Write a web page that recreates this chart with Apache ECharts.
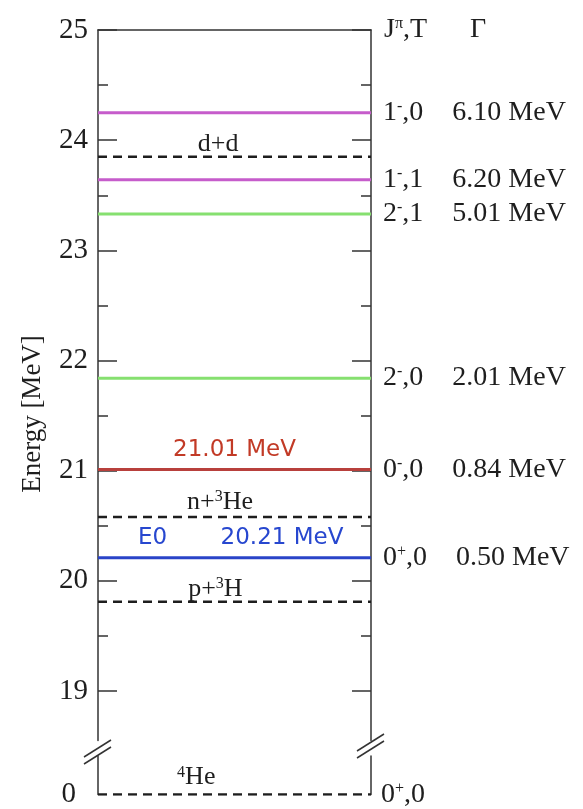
<!DOCTYPE html>
<html>
<head>
<meta charset="utf-8">
<script src="https://cdn.jsdelivr.net/npm/echarts@6/dist/echarts.min.js"></script>
<style>
  html, body { margin: 0; padding: 0; background: #fff; }
  #main { width: 583px; height: 809px; }
</style>
</head>
<body>
<div id="main"></div>
<script>
// resonance levels of 4He
var levelJ = ['1', '1', '2', '2', '0', '0'];
var levelParity = ['-', '-', '-', '-', '-', '+'];
var levelT = ['0', '1', '1', '0', '0', '0'];
var levelEnergy = [24.25, 23.64, 23.33, 21.84, 21.01, 20.21];
var levelGamma = ['6.10 MeV', '6.20 MeV', '5.01 MeV', '2.01 MeV', '0.84 MeV', '0.50 MeV'];
var levelColor = ['#c65ccb', '#c65ccb', '#86e070', '#86e070', '#b8403c', '#2a44c8'];

// breakup thresholds
var thresholdName = ['d+d', 'n+{s|3}He', 'p+{s|3}H'];
var thresholdEnergy = [23.85, 20.58, 19.81];

// ground state
var groundName = ['{s|4}He'];
var groundEnergy = [0];

// axis ticks
var majorTicks = [19, 20, 21, 22, 23, 24, 25];
var minorTicks = [19.5, 20.5, 21.5, 22.5, 23.5, 24.5];

var serif = '"Liberation Serif", "DejaVu Serif", serif';
var ink = '#1e1e1e';

var chart = echarts.init(document.getElementById('main'));

var supRich = {
    s: { fontFamily: serif, fontSize: 16, color: ink, verticalAlign: 'top', lineHeight: 14 }
};

var series = [];

levelEnergy.forEach(function (e, i) {
    series.push({
        type: 'line',
        xAxisIndex: 0,
        yAxisIndex: 0,
        symbol: 'none',
        silent: true,
        data: [[0, e], [1, e]],
        lineStyle: { color: levelColor[i], width: 3 },
        endLabel: {
            show: true,
            distance: 12,
            formatter: '{j|' + levelJ[i] + '}{p|' + levelParity[i] + '}{t|,' + levelT[i] + '}{g|' + levelGamma[i] + '}',
            rich: {
                j: { fontFamily: serif, fontSize: 28, color: ink },
                p: { fontFamily: serif, fontSize: 16, color: ink, verticalAlign: 'top', lineHeight: 12 },
                t: { fontFamily: serif, fontSize: 28, color: ink, width: 50 },
                g: { fontFamily: serif, fontSize: 28, color: ink }
            }
        }
    });
});

thresholdEnergy.forEach(function (e, i) {
    series.push({
        type: 'line',
        xAxisIndex: 0,
        yAxisIndex: 0,
        symbol: 'none',
        silent: true,
        data: [[0, e], [1, e]],
        lineStyle: { color: ink, width: 2.5, type: [9, 6] }
    });
});

groundEnergy.forEach(function (e) {
    series.push({
        type: 'line',
        xAxisIndex: 1,
        yAxisIndex: 4,
        symbol: 'none',
        silent: true,
        data: [[0, e], [1, e]],
        lineStyle: { color: ink, width: 2.5, type: [9, 6] },
        endLabel: {
            show: true,
            distance: 10,
            formatter: '{j|0}{p|+}{t|,0}',
            rich: {
                j: { fontFamily: serif, fontSize: 28, color: ink },
                p: { fontFamily: serif, fontSize: 16, color: ink, verticalAlign: 'top', lineHeight: 12 },
                t: { fontFamily: serif, fontSize: 28, color: ink }
            }
        }
    });
});

// text placed over the lines
var thresholdX = [0.44, 0.447, 0.43];
var thresholdDist = [0, 2, 0];
series.push({
    type: 'scatter',
    xAxisIndex: 0,
    yAxisIndex: 0,
    symbolSize: 0,
    silent: true,
    itemStyle: { opacity: 1 },
    data: thresholdEnergy.map(function (e, i) {
        return {
            value: [thresholdX[i], e],
            label: {
                show: true,
                position: 'top',
                distance: thresholdDist[i],
                formatter: thresholdName[i],
                fontFamily: serif,
                fontSize: 26,
                color: ink,
                rich: supRich
            }
        };
    })
});

series.push({
    type: 'scatter',
    xAxisIndex: 1,
    yAxisIndex: 4,
    symbolSize: 0,
    silent: true,
    itemStyle: { opacity: 1 },
    data: groundEnergy.map(function (e, i) {
        return {
            value: [0.36, e],
            label: {
                show: true,
                position: 'top',
                distance: 4,
                formatter: groundName[i],
                fontFamily: serif,
                fontSize: 26,
                color: ink,
                rich: supRich
            }
        };
    })
});

var comic = '"DejaVu Sans", "Noto Sans", sans-serif';
series.push({
    type: 'scatter',
    xAxisIndex: 0,
    yAxisIndex: 0,
    symbolSize: 0,
    silent: true,
    itemStyle: { opacity: 1 },
    data: [
        { value: [0.50, levelEnergy[4]], label: { formatter: levelEnergy[4].toFixed(2) + ' MeV', color: '#c23a26' } },
        { value: [0.20, levelEnergy[5]], label: { formatter: 'E0', color: '#2747cf' } },
        { value: [0.674, levelEnergy[5]], label: { formatter: levelEnergy[5].toFixed(2) + ' MeV', color: '#2747cf' } }
    ],
    label: {
        show: true,
        position: 'top',
        distance: 8,
        fontFamily: comic,
        fontSize: 23
    }
});

var option = {
    animation: false,
    backgroundColor: '#fff',
    grid: [
        { left: 98, top: 30, width: 273, height: 710.6 },
        { left: 98, top: 756, width: 273, height: 40 }
    ],
    xAxis: [
        {
            gridIndex: 0, type: 'value', min: 0, max: 1, position: 'top',
            axisLine: { show: true, lineStyle: { color: '#333', width: 1.5 } },
            axisTick: { show: false }, axisLabel: { show: false }, splitLine: { show: false }
        },
        {
            gridIndex: 1, type: 'value', min: 0, max: 1, show: false
        }
    ],
    yAxis: [
        {
            gridIndex: 0, type: 'value', min: 18.55, max: 25, position: 'left',
            axisLine: { show: true, lineStyle: { color: '#333', width: 1.5 } },
            axisTick: { show: true, inside: true, length: 19, customValues: majorTicks, lineStyle: { color: '#333', width: 1.5 } },
            axisLabel: { show: true, customValues: majorTicks, margin: 10, fontFamily: serif, fontSize: 29, color: ink },
            splitLine: { show: false }
        },
        {
            gridIndex: 0, type: 'value', min: 18.55, max: 25, position: 'left',
            axisLine: { show: false },
            axisTick: { show: true, inside: true, length: 10, customValues: minorTicks, lineStyle: { color: '#333', width: 1.5 } },
            axisLabel: { show: false },
            splitLine: { show: false }
        },
        {
            gridIndex: 0, type: 'value', min: 18.55, max: 25, position: 'right',
            axisLine: { show: true, lineStyle: { color: '#333', width: 1.5 } },
            axisTick: { show: true, inside: true, length: 19, customValues: majorTicks, lineStyle: { color: '#333', width: 1.5 } },
            axisLabel: { show: false },
            splitLine: { show: false }
        },
        {
            gridIndex: 0, type: 'value', min: 18.55, max: 25, position: 'right',
            axisLine: { show: false },
            axisTick: { show: true, inside: true, length: 10, customValues: minorTicks, lineStyle: { color: '#333', width: 1.5 } },
            axisLabel: { show: false },
            splitLine: { show: false }
        },
        {
            gridIndex: 1, type: 'value', min: 0, max: 1, position: 'left',
            axisLine: { show: true, lineStyle: { color: '#333', width: 1.5 } },
            axisTick: { show: false },
            axisLabel: { show: true, customValues: [0], margin: 22, fontFamily: serif, fontSize: 29, color: ink },
            splitLine: { show: false }
        },
        {
            gridIndex: 1, type: 'value', min: 0, max: 1, position: 'right',
            axisLine: { show: true, lineStyle: { color: '#333', width: 1.5 } },
            axisTick: { show: false }, axisLabel: { show: false },
            splitLine: { show: false }
        }
    ],
    graphic: [
        {
            type: 'text', x: 33, y: 414, rotation: Math.PI / 2,
            style: { text: 'Energy [MeV]', font: '27px ' + serif, fill: ink, align: 'center', verticalAlign: 'middle' }
        },
        {
            type: 'text', x: 384, y: 30,
            style: {
                text: '{j|J}{p|π}{t|,T}',
                align: 'left', verticalAlign: 'middle',
                rich: {
                    j: { fontFamily: serif, fontSize: 28, fill: ink },
                    p: { fontFamily: serif, fontSize: 16, fill: ink, verticalAlign: 'top', lineHeight: 12 },
                    t: { fontFamily: serif, fontSize: 28, fill: ink }
                }
            }
        },
        {
            type: 'text', x: 470, y: 30,
            style: { text: 'Γ', font: '28px ' + serif, fill: ink, align: 'left', verticalAlign: 'middle' }
        },
        // axis break marks
        { type: 'line', shape: { x1: 84, y1: 757, x2: 111, y2: 740 }, style: { stroke: '#333', lineWidth: 1.5 } },
        { type: 'line', shape: { x1: 84, y1: 764, x2: 111, y2: 747 }, style: { stroke: '#333', lineWidth: 1.5 } },
        { type: 'line', shape: { x1: 357, y1: 751, x2: 384, y2: 734 }, style: { stroke: '#333', lineWidth: 1.5 } },
        { type: 'line', shape: { x1: 357, y1: 758, x2: 384, y2: 741 }, style: { stroke: '#333', lineWidth: 1.5 } }
    ],
    series: series
};

chart.setOption(option);
</script>
</body>
</html>
